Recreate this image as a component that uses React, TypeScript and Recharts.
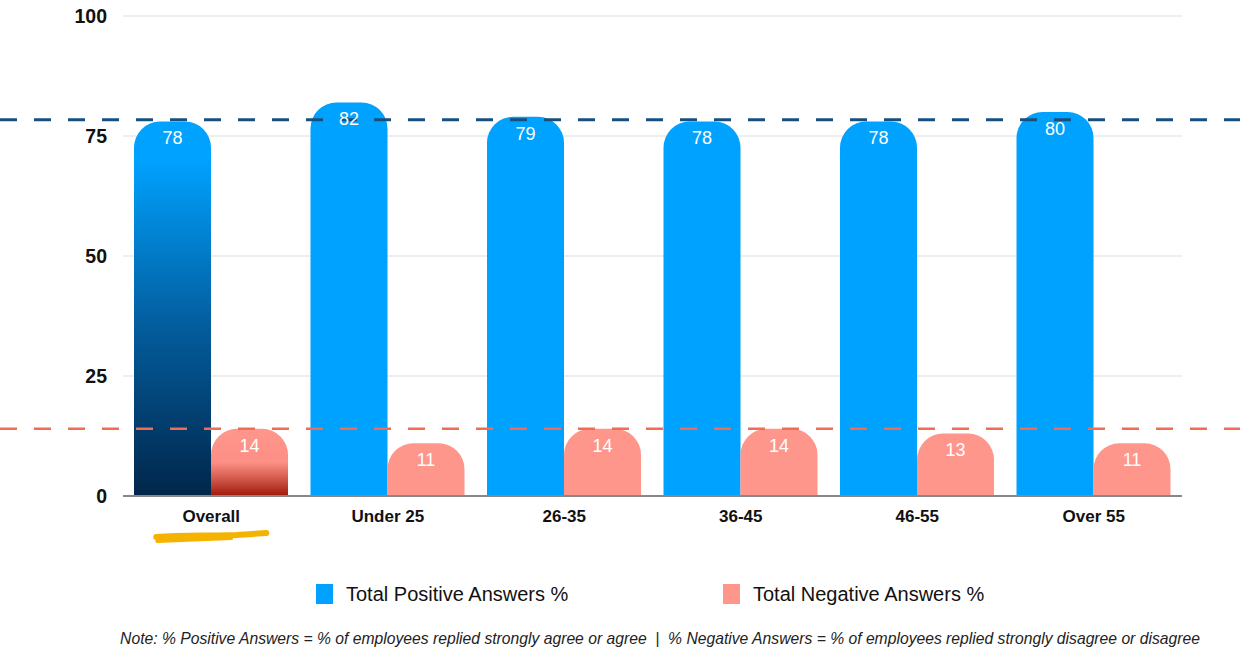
import React from "react";
import {
  BarChart,
  Bar,
  XAxis,
  YAxis,
  CartesianGrid,
  Cell,
  LabelList,
  Legend,
  ReferenceLine,
} from "recharts";

const AGE_GROUPS = ["Overall", "Under 25", "26-35", "36-45", "46-55", "Over 55"];
const POSITIVE = [78, 82, 79, 78, 78, 80];
const NEGATIVE = [14, 11, 14, 14, 13, 11];
const Y_TICKS = [0, 25, 50, 75, 100];
const POSITIVE_BENCHMARK = 78.4;
const NEGATIVE_BENCHMARK = 14;
const SERIES_NAMES = ["Total Positive Answers %", "Total Negative Answers %"];
const NOTE =
  "Note: % Positive Answers = % of employees replied strongly agree or agree  |  % Negative Answers = % of employees replied strongly disagree or disagree";

const FONT = '"Liberation Sans", Arial, Helvetica, sans-serif';
const BLUE = "#00a2ff";
const PINK = "#ff968c";

const data = AGE_GROUPS.map((group, i) => ({
  group,
  positive: POSITIVE[i],
  negative: NEGATIVE[i],
}));

const GroupTick = ({ x, y, payload }: any) => (
  <g transform={`translate(${x},${y})`}>
    {payload.value === "Overall" && (
      <g fill="none" stroke="#f5b300" strokeLinecap="round">
        <path d="M-55 31 C-30 29, 0 30, 25 29 L55 27" strokeWidth={6} />
        <path d="M-54 35 C-30 34, -5 33, 20 32" strokeWidth={4} />
      </g>
    )}
    <text
      x={0}
      y={0}
      dy={16}
      textAnchor="middle"
      fontSize={17}
      fontWeight="bold"
      fill="#111"
      fontFamily={FONT}
    >
      {payload.value}
    </text>
  </g>
);

const dashedAcross = (stroke: string, width: number) => (props: any) => (
  <line
    x1={0}
    x2={1240}
    y1={props.y1}
    y2={props.y2}
    stroke={stroke}
    strokeWidth={width}
    strokeDasharray="17 17"
  />
);

const LegendContent = () => (
  <div style={{ position: "relative", width: 1240, height: 108, fontFamily: FONT }}>
    {SERIES_NAMES.map((name, i) => (
      <div
        key={name}
        style={{
          position: "absolute",
          left: i === 0 ? 316 : 723,
          top: 40,
          display: "flex",
          alignItems: "center",
          height: 20,
        }}
      >
        <span
          style={{
            display: "inline-block",
            width: 17,
            height: 20,
            background: i === 0 ? BLUE : PINK,
            marginRight: 13,
          }}
        />
        <span style={{ fontSize: 20, color: "#111", whiteSpace: "nowrap" }}>{name}</span>
      </div>
    ))}
    <div
      style={{
        position: "absolute",
        top: 86,
        left: 80,
        width: 1160,
        textAlign: "center",
        fontStyle: "italic",
        fontSize: 15.7,
        color: "#222",
        whiteSpace: "pre",
      }}
    >
      {NOTE}
    </div>
  </div>
);

export default function App() {
  return (
    <div style={{ position: "absolute", left: 0, top: 0, width: 1240, height: 652, background: "#fff" }}>
      <BarChart
        width={1240}
        height={652}
        data={data}
        margin={{ top: 16, right: 58, bottom: 0, left: 0 }}
        barSize={77}
        barGap={0}
        style={{ fontFamily: FONT }}
      >
        <defs>
          <linearGradient id="overallPositive" x1="0" y1="0" x2="0" y2="1">
            <stop offset="0%" stopColor={BLUE} />
            <stop offset="10%" stopColor={BLUE} />
            <stop offset="55%" stopColor="#035c9c" />
            <stop offset="100%" stopColor="#01264a" />
          </linearGradient>
          <linearGradient id="overallNegative" x1="0" y1="0" x2="0" y2="1">
            <stop offset="0%" stopColor={PINK} />
            <stop offset="50%" stopColor="#fd8f85" />
            <stop offset="75%" stopColor="#d0584a" />
            <stop offset="100%" stopColor="#a01808" />
          </linearGradient>
        </defs>
        <CartesianGrid vertical={false} stroke="#dddddd" />
        <XAxis
          dataKey="group"
          height={48}
          tickSize={0}
          tickMargin={10}
          axisLine={{ stroke: "#888", strokeWidth: 2 }}
          tickLine={false}
          tick={<GroupTick />}
          interval={0}
        />
        <YAxis
          width={123}
          domain={[0, 100]}
          ticks={Y_TICKS}
          axisLine={false}
          tickLine={false}
          tickSize={0}
          tickMargin={16}
          tick={{ fontSize: 19.5, fontWeight: "bold", fill: "#111", fontFamily: FONT }}
        />
        <Legend verticalAlign="bottom" wrapperStyle={{ left: 0, bottom: 0, width: 1240 }} content={<LegendContent />} />
        <Bar dataKey="positive" name={SERIES_NAMES[0]} fill={BLUE} radius={[26, 26, 0, 0]} isAnimationActive={false}>
          {data.map((d, i) => (
            <Cell key={`p-${i}`} fill={i === 0 ? "url(#overallPositive)" : BLUE} />
          ))}
          <LabelList dataKey="positive" position="insideTop" offset={10} fill="#fff" fontSize={18} fontFamily={FONT} />
        </Bar>
        <Bar dataKey="negative" name={SERIES_NAMES[1]} fill={PINK} radius={[26, 26, 0, 0]} isAnimationActive={false}>
          {data.map((d, i) => (
            <Cell key={`n-${i}`} fill={i === 0 ? "url(#overallNegative)" : PINK} />
          ))}
          <LabelList dataKey="negative" position="insideTop" offset={10} fill="#fff" fontSize={18} fontFamily={FONT} />
        </Bar>
        <ReferenceLine y={POSITIVE_BENCHMARK} shape={dashedAcross("#17507f", 3)} />
        <ReferenceLine y={NEGATIVE_BENCHMARK} shape={dashedAcross("#f26b54", 2.5)} />
      </BarChart>
    </div>
  );
}
